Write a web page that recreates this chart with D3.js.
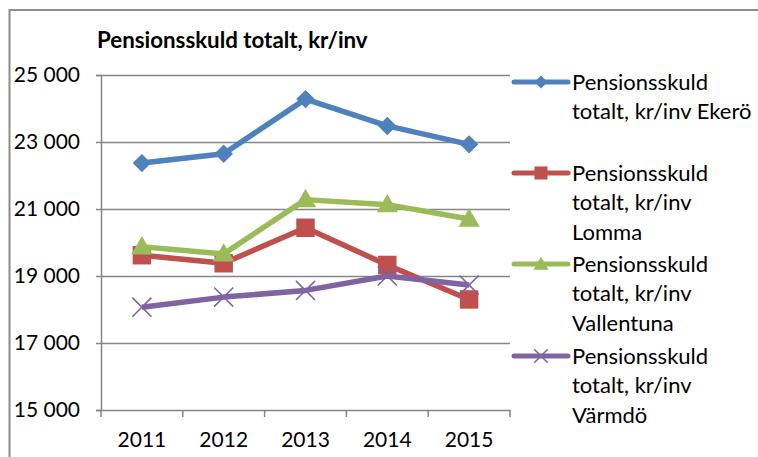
<!DOCTYPE html>
<html>
<head>
<meta charset="utf-8">
<script src="https://cdn.jsdelivr.net/npm/d3@7"></script>
<style>
  body { margin: 0; background: #fff; }
  svg { display: block; font-family: Lato, "Open Sans", sans-serif; }
</style>
</head>
<body>
<svg id="chart" width="758" height="457"></svg>
<script>
const years = ["2011", "2012", "2013", "2014", "2015"];
const ekero = [22370, 22650, 24280, 23480, 22930];
const lomma = [19620, 19380, 20440, 19330, 18300];
const vallentuna = [19870, 19660, 21280, 21130, 20700];
const varmdo = [18070, 18370, 18570, 19000, 18730];
const yTicks = [15000, 17000, 19000, 21000, 23000, 25000];
const legendLabels = [
  ["Pensionsskuld", "totalt, kr/inv Ekerö"],
  ["Pensionsskuld", "totalt, kr/inv", "Lomma"],
  ["Pensionsskuld", "totalt, kr/inv", "Vallentuna"],
  ["Pensionsskuld", "totalt, kr/inv", "Värmdö"]
];

const series = [
  { values: ekero, color: "#4f81bd", symbol: "diamond" },
  { values: lomma, color: "#c0504d", symbol: "square" },
  { values: vallentuna, color: "#9bbb59", symbol: "triangle" },
  { values: varmdo, color: "#8064a2", symbol: "x" }
];

const svg = d3.select("#chart");
const plotL = 101, plotR = 510, plotT = 75, plotB = 410;

const x = d3.scaleBand().domain(years).range([plotL, plotR]);
const y = d3.scaleLinear().domain([15000, 25000]).range([plotB, plotT]);

const fmt = d3.formatLocale({ decimal: ",", thousands: " ", grouping: [3], currency: ["", ""] }).format(",d");

// outer frame
svg.append("rect")
  .attr("x", 9.5).attr("y", 10)
  .attr("width", 800).attr("height", 500)
  .attr("fill", "none").attr("stroke", "#8c8c8c").attr("stroke-width", 2);

// title
svg.append("text")
  .attr("x", 97).attr("y", 48)
  .attr("font-weight", "bold").attr("font-size", 22.3)
  .attr("fill", "#000")
  .text("Pensionsskuld totalt, kr/inv");

// y axis + grid
const yAxis = svg.append("g")
  .attr("transform", `translate(${plotL},0)`)
  .call(d3.axisLeft(y).tickValues(yTicks).tickFormat(fmt).tickSize(5).tickPadding(16));
yAxis.select(".domain").attr("stroke", "#868686").attr("stroke-width", 1.5);
yAxis.selectAll(".tick line").attr("stroke", "#868686").attr("stroke-width", 1.5);
yAxis.selectAll(".tick text").attr("font-size", 21).attr("font-family", "Lato").attr("fill", "#000");

svg.append("g")
  .attr("transform", `translate(${plotL},0)`)
  .call(d3.axisLeft(y).tickValues(yTicks.slice(1)).tickFormat("").tickSize(-(plotR - plotL)))
  .call(g => g.select(".domain").remove())
  .selectAll("line").attr("stroke", "#868686").attr("stroke-width", 1.5);

// x axis
const xAxis = svg.append("g")
  .attr("transform", `translate(0,${plotB})`)
  .call(d3.axisBottom(x).tickSize(0).tickPadding(22));
xAxis.select(".domain").attr("stroke", "#868686").attr("stroke-width", 1.5);
xAxis.selectAll(".tick text").attr("font-size", 21).attr("font-family", "Lato").attr("fill", "#000");
xAxis.selectAll(".cat-tick")
  .data(years.map(d => x(d)).concat([plotR]))
  .join("line")
  .attr("x1", d => d).attr("x2", d => d)
  .attr("y1", 0).attr("y2", 7)
  .attr("stroke", "#868686").attr("stroke-width", 1.5);

function markerPath(kind, scale) {
  if (kind === "diamond") return d3.symbol(d3.symbolSquare, 170 * scale)();
  if (kind === "square") return d3.symbol(d3.symbolSquare, 340 * scale)();
  if (kind === "triangle") return d3.symbol(d3.symbolTriangle, 195 * scale)();
  return d3.symbol(d3.symbolTimes, 240 * scale)();
}

function drawMarker(g, kind, color, scale) {
  const p = g.append("path").attr("d", markerPath(kind, scale));
  if (kind === "x") {
    p.attr("fill", "none").attr("stroke", color).attr("stroke-width", 1.6);
  } else {
    p.attr("fill", color);
  }
  if (kind === "diamond") p.attr("transform", "rotate(45)");
  if (kind === "triangle") p.attr("transform", "translate(0,1.5)");
}

const line = d3.line()
  .x((d, i) => x(years[i]) + x.bandwidth() / 2)
  .y(d => y(d));

series.forEach(s => {
  svg.append("path")
    .attr("d", line(s.values))
    .attr("fill", "none")
    .attr("stroke", s.color)
    .attr("stroke-width", 5.5)
    .attr("stroke-linejoin", "round");
  s.values.forEach((v, i) => {
    const g = svg.append("g")
      .attr("transform", `translate(${x(years[i]) + x.bandwidth() / 2},${y(v)})`);
    drawMarker(g, s.symbol, s.color, 1);
  });
});

// legend
const legendY = [82, 173, 264, 356];
series.forEach((s, i) => {
  const g = svg.append("g").attr("transform", `translate(0,${legendY[i]})`);
  g.append("line")
    .attr("x1", 514).attr("x2", 568).attr("y1", 0).attr("y2", 0)
    .attr("stroke", s.color).attr("stroke-width", 5).attr("stroke-linecap", "round");
  const m = g.append("g").attr("transform", "translate(541,0)");
  drawMarker(m, s.symbol, s.color, 0.5);
  g.append("text")
    .attr("x", 572).attr("y", 7.5)
    .attr("font-size", 22).attr("fill", "#000")
    .selectAll("tspan")
    .data(legendLabels[i])
    .join("tspan")
    .attr("x", 572)
    .attr("dy", (d, j) => j === 0 ? 0 : 29.5)
    .text(d => d);
});
</script>
</body>
</html>
